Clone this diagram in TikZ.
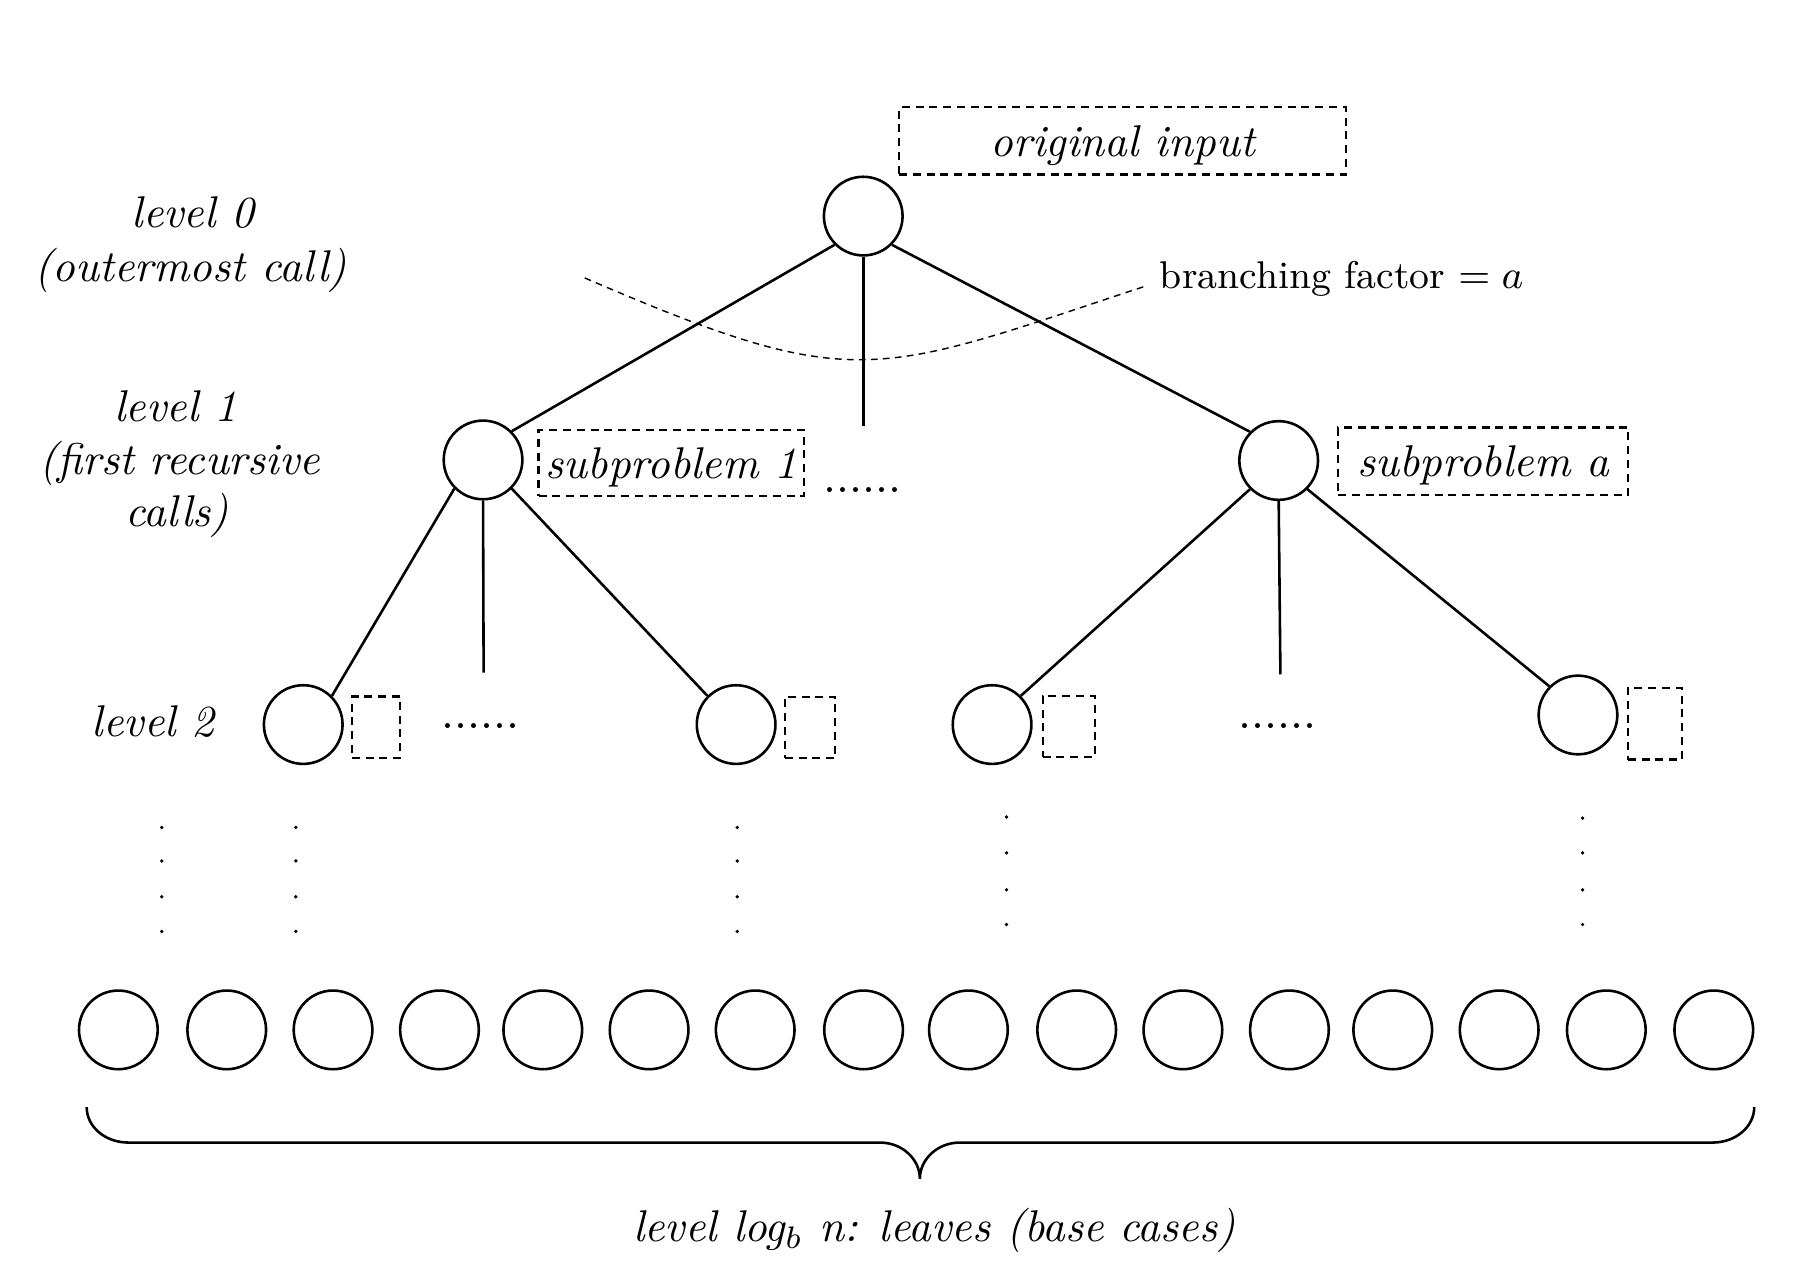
\documentclass[tikz,border=0pt]{standalone}
\begin{document}
\begin{tikzpicture}[x=0.26pt,y=-0.26pt,
  vtx/.style={circle,draw,line width=0.58pt,minimum size=17.7pt,inner sep=0pt},
  edge/.style={line width=0.58pt},
  dbox/.style={draw,line width=0.48pt,dash pattern=on 1.8pt off 1.3pt,inner sep=0pt,font=\itshape,text depth=0pt},
  lbl/.style={font=\itshape,inner sep=0pt,anchor=base},
  hdots/.style={inner sep=0pt,anchor=base},
  vdot/.style={fill=black}]
\useasboundingbox (0,0) rectangle (1568,1112.8);

% level 0
\node[vtx] (root) at (747,187) {};
\node[dbox,minimum width=100.6pt,minimum height=15.1pt] (orig) at (971.5,122) {original input};
\node[lbl] (l0a) at (167,197) {level 0};
\node[lbl] (l0b) at (165,243.7) {(outermost call)};
\node[inner sep=0pt,anchor=base west] (bf) at (1003,249.7) {\fontsize{8.7pt}{10pt}\selectfont branching factor $= a$};

% level 1
\node[vtx] (l1l) at (418,398) {};
\node[vtx] (l1r) at (1106.5,398.5) {};
\node[dbox,minimum width=59.8pt,minimum height=14.8pt] (sub1) at (581,400.5) {subproblem 1};
\node[dbox,minimum width=65.3pt,minimum height=15.1pt] (suba) at (1283.5,399) {subproblem a};
\node[hdots] (d1) at (746.5,426.5) {\fontsize{10.5pt}{12pt}\selectfont ......};
\node[lbl] (l1a) at (152,365) {level 1};
\node[lbl] (l1b) at (155.5,411) {(first recursive};
\node[lbl] (l1c) at (153.5,455.7) {calls)};

% level 2
\node[vtx] (c2a) at (262.4,627) {};
\node[vtx] (c2b) at (637,627) {};
\node[vtx] (c2c) at (858.5,627) {};
\node[vtx] (c2d) at (1365.5,618.7) {};
\node[dbox,minimum width=10.9pt,minimum height=13.8pt] (sa) at (325.5,629.3) {};
\node[dbox,minimum width=11.4pt,minimum height=13.8pt] (sb) at (701,629.5) {};
\node[dbox,minimum width=11.7pt,minimum height=13.8pt] (sc) at (924.7,628.7) {};
\node[dbox,minimum width=12.2pt,minimum height=16.1pt] (sd) at (1432,626.3) {};
\node[hdots] (d2) at (416,630) {\fontsize{10.5pt}{12pt}\selectfont ......};
\node[hdots] (d3) at (1105.5,630) {\fontsize{10.5pt}{12pt}\selectfont ......};
\node[lbl] (l2) at (132.5,637) {level 2};

% edges
\coordinate (m0) at (747,369);
\coordinate (m1) at (418.5,582);
\coordinate (m2) at (1108,583.5);
\draw[edge] (root.south west) -- (l1l.north east);
\draw[edge] (root.south east) -- (l1r.north west);
\draw[edge] (root.south) -- (m0);
\draw[edge] (l1l.south west) -- (c2a.north east);
\draw[edge] (l1l.south east) -- (c2b.north west);
\draw[edge] (l1l.south) -- (m1);
\draw[edge] (l1r.south west) -- (c2c.north east);
\draw[edge] (l1r.south east) -- (c2d.north west);
\draw[edge] (l1r.south) -- (m2);

% branching factor curve
\coordinate (bfs) at (506,240.5);
\coordinate (bfe) at (990,248);
\draw[line width=0.32pt,dash pattern=on 1.5pt off 1.2pt] (bfs) .. controls (741,341.6) and (755,325.6) .. (bfe);

% vertical dots
\foreach \x in {140,256,638}
  \foreach \y in {716,745,776,806}
    \fill[vdot] (\x,\y) circle (0.42pt);
\foreach \y in {707,738,770,800} \fill[vdot] (871,\y) circle (0.42pt);
\foreach \y in {708,738,770,800} \fill[vdot] (1369.5,\y) circle (0.42pt);

% leaves
\foreach \x [count=\i] in {102.4,196.2,288.2,380.3,469.7,561.7,653.5,747.3,838,931.7,1023.6,1115.8,1205.2,1297.3,1390,1483}
  \node[vtx] (leaf\i) at (\x,891.2) {};

% brace
\coordinate (bl) at (75,958);
\coordinate (br) at (1518,958);
\coordinate (bt) at (796,1020);
\draw[edge] (bl) .. controls (75,975) and (91,988.7) .. (111,988.7)
  -- (761.5,988.7) .. controls (780.5,988.7) and (796,1003) .. (bt)
  .. controls (796,1003) and (811.5,988.7) .. (830.5,988.7)
  -- (1482,988.7) .. controls (1502,988.7) and (1518,975) .. (br);
\node[lbl] (bottom) at (808.5,1074.4) {level log$_b$ n: leaves (base cases)};
\end{tikzpicture}
\end{document}
